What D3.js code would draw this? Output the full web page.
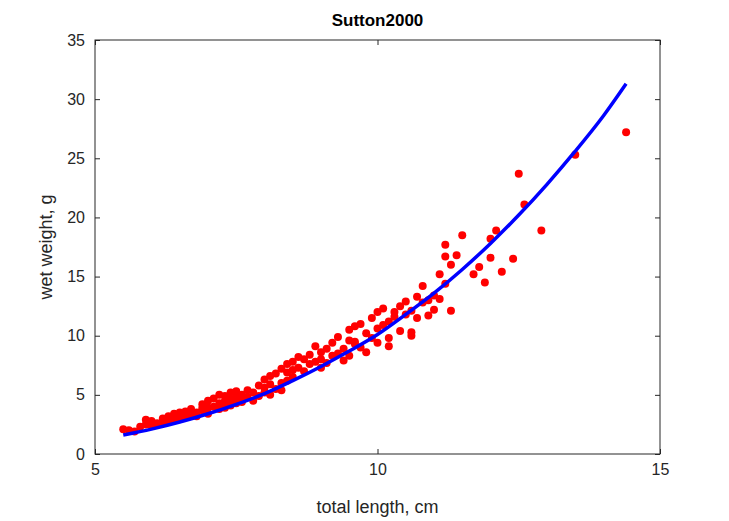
<!DOCTYPE html><html><head><meta charset="utf-8"><script src="https://cdn.jsdelivr.net/npm/d3@7"></script>
<style>body{margin:0;background:#fff}text{font-family:"Liberation Sans",Arial,sans-serif}</style></head><body><svg id="c" width="729" height="521"></svg><script>
const xTicks=[5,10,15], yTicks=[0,5,10,15,20,25,30,35];
const fitL=[5.5,6,6.5,7,7.5,8,8.5,9,9.5,10,10.5,11,11.5,12,12.5,13,13.5,14,14.4];
const fitW=[1.6,2.1,2.7,3.4,4.2,5.1,6.2,7.4,8.7,10.1,11.8,13.6,15.6,17.8,20.2,22.8,25.6,28.6,31.3];
const obsL=[5.5,5.6,5.7,5.8,5.9,5.9,6.0,6.0,6.1,6.2,6.3,6.3,6.4,6.4,6.5,6.5,6.6,6.6,6.7,6.7,6.8,6.8,6.9,6.9,7.0,7.0,7.0,7.1,7.1,7.2,7.2,7.2,7.3,7.3,7.3,7.4,7.4,7.4,7.5,7.5,7.5,7.6,7.6,7.7,7.7,7.8,7.8,7.9,7.9,8.0,8.0,8.0,8.1,8.1,8.1,8.2,8.2,8.3,8.3,8.3,8.4,8.4,8.5,8.5,8.5,8.6,8.6,8.7,8.7,8.8,8.8,8.9,8.9,9.0,9.0,9.0,9.1,9.1,9.2,9.2,9.3,9.3,9.4,9.4,9.5,9.5,9.5,9.6,9.6,9.7,9.7,9.8,9.8,9.9,9.9,10.0,10.0,10.0,10.1,10.1,10.2,10.2,10.3,10.3,10.4,10.4,10.5,10.5,10.6,10.6,10.7,10.7,10.8,10.8,10.9,10.9,11.0,11.0,11.1,11.1,11.2,11.2,11.2,11.3,11.3,11.4,11.5,11.7,11.8,11.9,12.0,12.0,12.1,12.2,12.4,12.5,12.6,12.9,13.5,14.4,6.2,6.9,7.6,8.4,9.6,10.2,10.6];
const obsW=[2.1,2.0,1.9,2.3,2.5,2.9,2.4,2.8,2.6,3.0,2.8,3.2,2.9,3.4,3.0,3.5,3.1,3.6,3.3,3.8,3.5,3.2,3.7,4.2,3.9,4.5,3.4,4.0,4.7,4.3,3.8,5.0,4.5,4.9,3.9,4.6,5.2,4.1,4.8,5.3,4.3,5.0,4.6,5.4,4.8,5.2,4.5,5.8,4.9,6.3,5.2,5.6,6.6,5.0,5.9,5.5,6.8,6.0,7.2,5.4,6.9,7.6,6.5,7.8,7.1,7.3,8.2,7.0,8.0,7.6,8.4,7.8,9.1,8.0,8.6,7.3,8.9,7.7,9.4,8.3,8.5,9.9,8.9,7.9,9.6,10.5,8.3,9.3,10.8,9.0,11.0,10.2,8.6,9.8,11.5,10.6,9.4,12.0,10.9,12.3,11.2,9.8,12.0,11.6,12.5,10.4,11.8,12.9,12.1,10.0,13.3,11.5,12.8,14.2,13.0,11.7,13.4,12.2,13.1,15.2,14.4,16.7,17.7,12.1,16.0,16.8,18.5,15.2,15.8,14.5,16.6,18.2,18.9,15.4,16.5,23.7,21.1,18.9,25.3,27.2,2.7,3.9,4.4,6.2,9.5,9.1,10.3];
const svg=d3.select("#c");
const m={l:95,r:660,t:40,b:454};
const x=d3.scaleLinear().domain([5,15]).range([m.l,m.r]);
const y=d3.scaleLinear().domain([0,35]).range([m.b,m.t]);
svg.append("rect").attr("x",m.l).attr("y",m.t).attr("width",m.r-m.l).attr("height",m.b-m.t).attr("fill","#fff").attr("stroke","#262626");
const ax=svg.append("g").attr("transform",`translate(0,${m.b})`).call(d3.axisBottom(x).tickValues(xTicks).tickSizeInner(-5).tickSizeOuter(0).tickPadding(10));
const ay=svg.append("g").attr("transform",`translate(${m.l},0)`).call(d3.axisLeft(y).tickValues(yTicks).tickSizeInner(-5).tickSizeOuter(0).tickPadding(10));
svg.append("g").attr("transform",`translate(0,${m.t})`).call(d3.axisTop(x).tickValues(xTicks).tickSizeInner(-5).tickSizeOuter(0).tickFormat(""));
svg.append("g").attr("transform",`translate(${m.r},0)`).call(d3.axisRight(y).tickValues(yTicks).tickSizeInner(-5).tickSizeOuter(0).tickFormat(""));
svg.selectAll(".domain").remove();
svg.selectAll(".tick line").attr("stroke","#262626");
svg.selectAll(".tick text").attr("font-size",16).attr("fill","#262626").style("font-family","Liberation Sans,Arial,sans-serif");
svg.append("g").selectAll("circle").data(obsL).join("circle").attr("cx",d=>x(d)).attr("cy",(d,i)=>y(obsW[i])).attr("r",4).attr("fill","#ff0000");
svg.append("path").datum(fitL).attr("d",d3.line().x(d=>x(d)).y((d,i)=>y(fitW[i])).curve(d3.curveMonotoneX)).attr("fill","none").attr("stroke","#0000ff").attr("stroke-width",3.5);
svg.append("text").attr("x",(m.l+m.r)/2).attr("y",26).attr("text-anchor","middle").attr("font-size",17).attr("font-weight","bold").text("Sutton2000");
svg.append("text").attr("x",(m.l+m.r)/2).attr("y",513).attr("text-anchor","middle").attr("font-size",18).attr("fill","#262626").text("total length, cm");
svg.append("text").attr("transform",`translate(52,${(m.t+m.b)/2}) rotate(-90)`).attr("text-anchor","middle").attr("font-size",18).attr("fill","#262626").text("wet weight, g");
</script></body></html>
